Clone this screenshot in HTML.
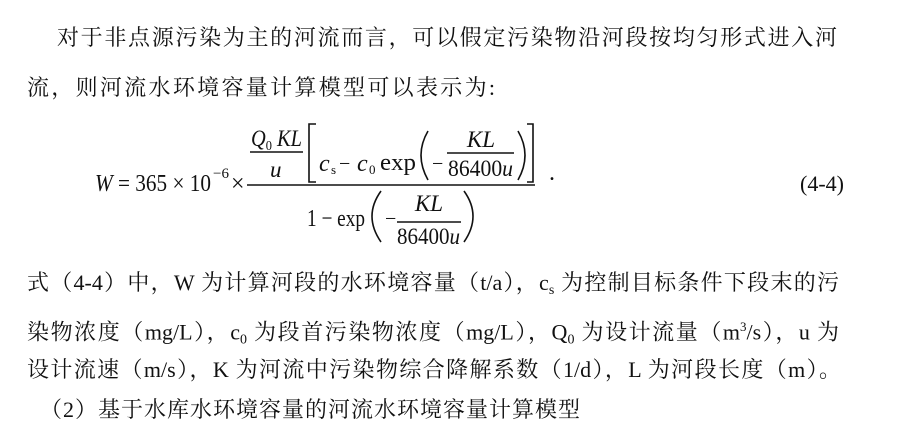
<!DOCTYPE html>
<html><head><meta charset="utf-8">
<style>
body{margin:0;width:900px;height:440px;background:#fff;overflow:hidden;position:relative;font-family:"Liberation Serif","Noto Serif CJK SC",serif;color:#111}
.l{position:absolute;font-size:22px;line-height:30px;white-space:nowrap;text-align:justify;text-align-last:justify}
sub{font-size:14px;vertical-align:-4px}
svg{position:absolute;left:0;top:0}
svg text{font-family:"Liberation Serif",serif;fill:#111}
</style></head><body>
<div class="l" style="left:57px;top:23px;width:780px">对于非点源污染为主的河流而言，可以假定污染物沿河段按均匀形式进入河</div>
<div class="l" style="left:27px;top:73px;width:468px">流，则河流水环境容量计算模型可以表示为:</div>

<svg width="900" height="260" viewBox="0 0 900 260">
<g font-size="24">
<text x="95" y="191" textLength="116" lengthAdjust="spacingAndGlyphs"><tspan font-style="italic">W</tspan> = 365 × 10</text>
<text x="213" y="178" font-size="15">−6</text>
<text x="231" y="191">×</text>
<!-- small fraction -->
<text x="251" y="146" font-size="23" textLength="51" lengthAdjust="spacingAndGlyphs"><tspan font-style="italic">Q</tspan><tspan font-size="14" dy="4">0</tspan><tspan dy="-4" font-style="italic"> KL</tspan></text>
<line x1="250" y1="152" x2="303" y2="152" stroke="#111" stroke-width="1.5"/>
<text x="270" y="177" font-size="23" font-style="italic">u</text>
<path d="M316 124 H309 V182 H316" fill="none" stroke="#111" stroke-width="1.6"/>
<text x="319" y="171" font-style="italic">c</text><text x="331" y="174" font-size="13">s</text>
<text x="339" y="170" font-size="20">−</text>
<text x="357" y="171" font-style="italic">c</text><text x="369" y="174" font-size="13">0</text>
<text x="380" y="170" textLength="36" lengthAdjust="spacingAndGlyphs">exp</text>
<path d="M428 131 Q414 155 428 180" fill="none" stroke="#111" stroke-width="1.6"/>
<text x="432" y="170" font-size="20">−</text>
<text x="481" y="147" font-size="23" font-style="italic" text-anchor="middle">KL</text>
<line x1="447" y1="153" x2="514" y2="153" stroke="#111" stroke-width="1.5"/>
<text x="448" y="176" font-size="23" textLength="65" lengthAdjust="spacingAndGlyphs">86400<tspan font-style="italic">u</tspan></text>
<path d="M518 131 Q532 155 518 180" fill="none" stroke="#111" stroke-width="1.6"/>
<path d="M527 124 H533 V182 H527" fill="none" stroke="#111" stroke-width="1.6"/>
<line x1="247" y1="185" x2="535" y2="185" stroke="#111" stroke-width="1.6"/>
<text x="549" y="180">.</text>
<text x="307" y="226" textLength="58" lengthAdjust="spacingAndGlyphs">1 − exp</text>
<path d="M381 191 Q363 216 381 242" fill="none" stroke="#111" stroke-width="1.6"/>
<text x="385" y="225" font-size="20">−</text>
<text x="429" y="211" font-size="23" font-style="italic" text-anchor="middle">KL</text>
<line x1="397" y1="222" x2="461" y2="222" stroke="#111" stroke-width="1.5"/>
<text x="397" y="244" font-size="23" textLength="63" lengthAdjust="spacingAndGlyphs">86400<tspan font-style="italic">u</tspan></text>
<path d="M464 191 Q482 216 464 242" fill="none" stroke="#111" stroke-width="1.6"/>
<text x="800" y="191" font-size="22">(4-4)</text>
</g>
</svg>

<div class="l" style="left:27px;top:268px;width:812px">式（4-4）中，W 为计算河段的水环境容量（t/a），c<sub>s</sub> 为控制目标条件下段末的污</div>
<div class="l" style="left:27px;top:312px;width:812px">染物浓度（mg/L），c<sub>0</sub> 为段首污染物浓度（mg/L），Q<sub>0</sub> 为设计流量（m<sup style="font-size:13px">3</sup>/s），u 为</div>
<div class="l" style="left:27px;top:355px;width:814px">设计流速（m/s），K 为河流中污染物综合降解系数（1/d），L 为河段长度（m）。</div>
<div class="l" style="left:40px;top:395px;width:540px">（2）基于水库水环境容量的河流水环境容量计算模型</div>
</body></html>
